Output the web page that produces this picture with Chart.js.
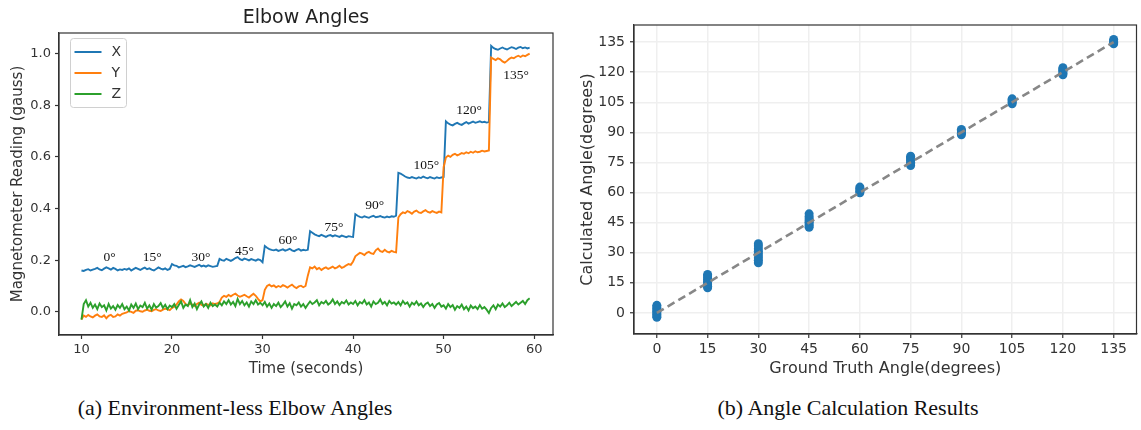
<!DOCTYPE html>
<html>
<head>
<meta charset="utf-8">
<script src="https://cdn.jsdelivr.net/npm/chart.js@4.4.0/dist/chart.umd.min.js"></script>
<style>
  body { margin: 0; background: #fff; width: 1141px; height: 430px; position: relative; overflow: hidden; }
  canvas { position: absolute; top: 0; }
  #elbowChart { left: 0; }
  #angleChart { left: 560px; }
  .caption { position: absolute; top: 395px; width: 420px; text-align: center;
             font-family: "Liberation Serif", serif; font-size: 22px; color: #111; }
</style>
</head>
<body>
<canvas id="elbowChart" width="560" height="380"></canvas>
<canvas id="angleChart" width="581" height="380"></canvas>
<div class="caption" style="left:25px">(a) Environment-less Elbow Angles</div>
<div class="caption" style="left:638px">(b) Angle Calculation Results</div>
<script>
// ---- left panel: magnetometer readings, sampled every 0.25 s from t = 10 s
const sampleStart = 10;
const sampleStep = 0.25;

const xReading = [
  0.160, 0.158, 0.162, 0.165, 0.160, 0.163, 0.166, 0.170, 0.164, 0.161, 0.167, 0.172, 0.168, 0.163, 0.170, 0.166, 0.160, 0.164, 0.162, 0.166,
  0.163, 0.168, 0.160, 0.165, 0.170, 0.166, 0.162, 0.167, 0.171, 0.165, 0.168, 0.163, 0.160, 0.166, 0.172, 0.167, 0.164, 0.168, 0.162, 0.166,
  0.185, 0.180, 0.178, 0.172, 0.175, 0.178, 0.173, 0.176, 0.180, 0.177, 0.174, 0.178, 0.182, 0.176, 0.179, 0.175, 0.180, 0.177, 0.174, 0.176,
  0.178, 0.205, 0.200, 0.198, 0.205, 0.201, 0.197, 0.202, 0.208, 0.212, 0.204, 0.200, 0.206, 0.203, 0.199, 0.204, 0.201, 0.198, 0.203, 0.200,
  0.192, 0.255, 0.248, 0.243, 0.240, 0.238, 0.241, 0.236, 0.239, 0.242, 0.237, 0.240, 0.244, 0.238, 0.235, 0.240, 0.243, 0.237, 0.240, 0.238,
  0.240, 0.312, 0.306, 0.300, 0.296, 0.293, 0.298, 0.294, 0.290, 0.295, 0.297, 0.292, 0.296, 0.293, 0.290, 0.295, 0.292, 0.289, 0.293, 0.291,
  0.290, 0.378, 0.372, 0.368, 0.365, 0.370, 0.367, 0.364, 0.369, 0.372, 0.366, 0.368, 0.371, 0.367, 0.365, 0.369, 0.366, 0.370, 0.368, 0.372,
  0.538, 0.535, 0.530, 0.524, 0.520, 0.518, 0.522, 0.519, 0.516, 0.521, 0.518, 0.524, 0.520, 0.517, 0.522, 0.519, 0.516, 0.521, 0.518, 0.520,
  0.522, 0.738, 0.730, 0.725, 0.722, 0.728, 0.732, 0.727, 0.724, 0.730, 0.735, 0.729, 0.733, 0.737, 0.732, 0.735, 0.738, 0.734, 0.736, 0.733,
  0.735, 1.030, 1.022, 1.018, 1.015, 1.020, 1.024, 1.019, 1.016, 1.021, 1.025, 1.022, 1.018, 1.023, 1.026, 1.021, 1.024, 1.020, 1.023
];

const yReading = [
  -0.030, -0.015, -0.020, -0.012, -0.018, -0.022, -0.015, -0.010, -0.018, -0.020, -0.014, -0.025, -0.016, -0.012, -0.020, -0.018, -0.010, -0.015, -0.008, -0.005,
  -0.002, 0.003, 0.000, -0.004, 0.004, 0.006, 0.002, 0.000, 0.005, 0.008, 0.004, 0.002, 0.007, 0.010, 0.005, 0.003, 0.008, 0.012, 0.009, 0.006,
  0.015, 0.020, 0.028, 0.040, 0.048, 0.042, 0.030, 0.025, 0.032, 0.028, 0.022, 0.030, 0.035, 0.027, 0.024, 0.031, 0.028, 0.025, 0.033, 0.030,
  0.032, 0.038, 0.055, 0.062, 0.058, 0.065, 0.060, 0.066, 0.070, 0.063, 0.058, 0.062, 0.066, 0.060, 0.055, 0.063, 0.070, 0.062, 0.050, 0.040,
  0.045, 0.085, 0.100, 0.105, 0.098, 0.102, 0.095, 0.100, 0.096, 0.103, 0.099, 0.094, 0.100, 0.105, 0.097, 0.092, 0.098, 0.101, 0.095, 0.100,
  0.140, 0.172, 0.168, 0.175, 0.165, 0.170, 0.162, 0.168, 0.172, 0.166, 0.170, 0.175, 0.168, 0.172, 0.178, 0.170, 0.174, 0.180, 0.185, 0.182,
  0.195, 0.215, 0.222, 0.228, 0.225, 0.220, 0.228, 0.232, 0.226, 0.224, 0.238, 0.245, 0.235, 0.232, 0.240, 0.233, 0.230, 0.236, 0.232, 0.230,
  0.365, 0.378, 0.385, 0.382, 0.390, 0.386, 0.380, 0.388, 0.392, 0.385, 0.383, 0.389, 0.394, 0.387, 0.384, 0.390, 0.386, 0.383, 0.388, 0.385,
  0.560, 0.598, 0.605, 0.600, 0.608, 0.612, 0.606, 0.610, 0.615, 0.612, 0.618, 0.614, 0.620, 0.616, 0.622, 0.618, 0.620, 0.624, 0.621, 0.623,
  0.625, 0.985, 0.980, 0.975, 0.982, 0.978, 0.970, 0.965, 0.972, 0.980, 0.985, 0.982, 0.988, 0.992, 0.987, 0.993, 0.990, 0.995, 1.000
];

const zReading = [
  -0.030, 0.030, 0.045, 0.020, 0.035, 0.015, 0.028, 0.010, 0.032, 0.018, 0.025, 0.005, 0.030, 0.012, 0.022, 0.008, 0.026, 0.015, 0.030, 0.010,
  0.020, 0.005, 0.028, 0.015, 0.032, 0.010, 0.024, 0.018, 0.035, 0.012, 0.025, 0.008, 0.030, 0.016, 0.022, 0.034, 0.015, 0.027, 0.010, 0.024,
  0.018, 0.030, 0.012, 0.026, 0.040, 0.015, 0.028, 0.022, 0.045, 0.018, 0.032, 0.010, 0.028, 0.040, 0.020, 0.030, 0.015, 0.035, 0.022, 0.028,
  0.020, 0.035, 0.025, 0.040, 0.030, 0.045, 0.028, 0.038, 0.022, 0.050, 0.030, 0.042, 0.025, 0.036, 0.020, 0.040, 0.030, 0.045, 0.028, 0.035,
  0.025, 0.038, 0.020, 0.032, 0.015, 0.030, 0.022, 0.035, 0.018, 0.028, 0.040, 0.020, 0.033, 0.012, 0.030, 0.025, 0.036, 0.020, 0.030, 0.015,
  0.028, 0.040, 0.030, 0.036, 0.045, 0.025, 0.038, 0.032, 0.042, 0.028, 0.035, 0.048, 0.030, 0.040, 0.026, 0.038, 0.032, 0.044, 0.028, 0.036,
  0.030, 0.042, 0.025, 0.038, 0.032, 0.045, 0.028, 0.036, 0.020, 0.040, 0.030, 0.035, 0.048, 0.030, 0.038, 0.025, 0.042, 0.032, 0.036, 0.028,
  0.038, 0.025, 0.042, 0.030, 0.036, 0.020, 0.035, 0.028, 0.040, 0.025, 0.032, 0.018, 0.030, 0.036, 0.022, 0.030, 0.015, 0.028, 0.034, 0.020,
  0.025, 0.012, 0.030, 0.018, 0.026, 0.008, 0.022, 0.015, 0.028, 0.010, 0.020, 0.005, 0.024, 0.014, 0.020, 0.010, 0.026, 0.012, 0.018, 0.008,
  -0.005, 0.015, 0.025, 0.010, 0.028, 0.020, 0.032, 0.018, 0.025, 0.035, 0.022, 0.030, 0.038, 0.028, 0.035, 0.042, 0.030, 0.045, 0.052
];

const timeTicks = [10, 20, 30, 40, 50, 60];
const gaussTicks = [0, 0.2, 0.4, 0.6, 0.8, 1.0];

// step annotations (time, reading) where each angle label sits
const angleNames = ['0°', '15°', '30°', '45°', '60°', '75°', '90°', '105°', '120°', '135°'];
const angleNameTimes = [13.1, 17.8, 23.2, 28.0, 32.8, 37.9, 42.4, 48.1, 52.8, 58.0];
const angleNameLevels = [0.21, 0.21, 0.21, 0.233, 0.275, 0.325, 0.41, 0.565, 0.778, 0.917];

// ---- right panel: calculated vs ground truth angle
const groundTruth = [0, 15, 30, 45, 60, 75, 90, 105, 120, 135];
const calculatedAngles = [
  [-2.2, -1.5, -0.8, 0.0, 0.7, 1.4, 2.2, 3.0, 3.8],
  [12.5, 13.3, 14.1, 15.0, 15.8, 16.6, 17.5, 18.4, 19.2],
  [25.0, 26.2, 27.4, 28.5, 29.6, 30.8, 32.0, 33.3, 34.5],
  [42.7, 43.5, 44.3, 45.2, 46.0, 47.0, 48.0, 49.4],
  [59.9, 60.6, 61.3, 62.0, 62.7],
  [73.5, 74.3, 75.1, 75.9, 76.7, 77.4, 78.1],
  [88.8, 89.5, 90.2, 90.8, 91.4],
  [104.2, 104.9, 105.6, 106.2, 106.7],
  [118.7, 119.5, 120.3, 121.0, 121.6, 122.2],
  [134.1, 134.8, 135.5, 136.3]
];
const idealLine = [0, 135];
const angleTicks = [0, 15, 30, 45, 60, 75, 90, 105, 120, 135];

const INK = '#333';
const SANS = 'DejaVu Sans';

const times = xReading.map((_, i) => sampleStart + i * sampleStep);
const toPoints = vals => vals.map((v, i) => ({ x: times[i], y: v }));

// box round the plot, like matplotlib spines
const frame = {
  id: 'frame',
  afterDraw(chart) {
    const { ctx, chartArea: a } = chart;
    ctx.save();
    ctx.strokeStyle = INK;
    ctx.lineWidth = 1.2;
    ctx.strokeRect(a.left, a.top, a.right - a.left, a.bottom - a.top);
    ctx.restore();
  }
};

const elbowTitle = {
  id: 'elbowTitle',
  afterDraw(chart) {
    const { ctx, chartArea: a } = chart;
    ctx.save();
    ctx.font = '19px "' + SANS + '"';
    ctx.fillStyle = '#222';
    ctx.textAlign = 'center';
    ctx.textBaseline = 'middle';
    ctx.fillText('Elbow Angles', (a.left + a.right) / 2, 18);
    ctx.restore();
  }
};

const innerLegend = {
  id: 'innerLegend',
  afterDraw(chart) {
    const { ctx, chartArea: a } = chart;
    const x = a.left + 11.5, y = a.top + 5.5;
    ctx.save();
    ctx.fillStyle = 'rgba(255,255,255,0.9)';
    ctx.strokeStyle = '#d0d0d0';
    ctx.lineWidth = 1;
    ctx.beginPath();
    ctx.roundRect(x, y, 56, 69, 3);
    ctx.fill();
    ctx.stroke();
    ctx.font = '14px "' + SANS + '"';
    ctx.textBaseline = 'middle';
    chart.data.datasets.forEach((ds, i) => {
      const ry = y + 13.5 + i * 21;
      ctx.strokeStyle = ds.borderColor;
      ctx.lineWidth = 2;
      ctx.beginPath();
      ctx.moveTo(x + 4, ry);
      ctx.lineTo(x + 31, ry);
      ctx.stroke();
      ctx.fillStyle = INK;
      ctx.fillText(ds.label, x + 41, ry);
    });
    ctx.restore();
  }
};

const angleMarks = {
  id: 'angleMarks',
  afterDatasetsDraw(chart) {
    const { ctx, scales } = chart;
    ctx.save();
    ctx.font = '13.5px "Liberation Serif"';
    ctx.fillStyle = '#111';
    ctx.textAlign = 'center';
    ctx.textBaseline = 'middle';
    angleNames.forEach((name, i) => {
      ctx.fillText(name, scales.x.getPixelForValue(angleNameTimes[i]),
                   scales.y.getPixelForValue(angleNameLevels[i]));
    });
    ctx.restore();
  }
};

new Chart(document.getElementById('elbowChart'), {
  type: 'line',
  data: {
    datasets: [
      { label: 'X', data: toPoints(xReading), borderColor: '#1f77b4', order: 3 },
      { label: 'Y', data: toPoints(yReading), borderColor: '#ff7f0e', order: 2 },
      { label: 'Z', data: toPoints(zReading), borderColor: '#2ca02c', order: 1 }
    ]
  },
  options: {
    responsive: false,
    animation: false,
    layout: { padding: { left: 0, right: 7, top: 33, bottom: 0 } },
    elements: { point: { radius: 0 }, line: { borderWidth: 1.9, tension: 0 } },
    plugins: { legend: { display: false }, tooltip: { enabled: false } },
    scales: {
      x: {
        type: 'linear', min: 7.52, max: 62.08,
        afterBuildTicks: s => { s.ticks = timeTicks.map(v => ({ value: v })); },
        afterFit: s => { s.height = 45; },
        grid: { drawOnChartArea: false, tickLength: 4, tickColor: INK, tickWidth: 1.2 },
        border: { color: INK, width: 1.2 },
        ticks: { font: { family: SANS, size: 13 }, color: INK, padding: 3, maxRotation: 0 },
        title: { display: true, text: 'Time (seconds)', color: INK,
                 font: { family: SANS, size: 15 }, padding: { top: 0, bottom: 2 } }
      },
      y: {
        type: 'linear', min: -0.09, max: 1.08,
        afterBuildTicks: s => { s.ticks = gaussTicks.map(v => ({ value: v })); },
        afterFit: s => { s.width = 59; },
        grid: { drawOnChartArea: false, tickLength: 4, tickColor: INK, tickWidth: 1.2 },
        border: { color: INK, width: 1.2 },
        ticks: { font: { family: SANS, size: 13 }, color: INK, padding: 4,
                 callback: v => v.toFixed(1) },
        title: { display: true, text: 'Magnetometer Reading (gauss)', color: INK,
                 font: { family: SANS, size: 15 }, padding: { top: 9, bottom: 0 } }
      }
    }
  },
  plugins: [frame, elbowTitle, innerLegend, angleMarks]
});

const scatterPoints = groundTruth.flatMap((g, i) =>
  calculatedAngles[i].map(c => ({ x: g, y: c })));

new Chart(document.getElementById('angleChart'), {
  type: 'scatter',
  data: {
    datasets: [
      { label: 'ideal', data: idealLine.map(v => ({ x: v, y: v })), showLine: true,
        borderColor: '#878787', borderWidth: 2.6, borderDash: [8, 4.5], pointRadius: 0, order: 0 },
      { label: 'calculated', data: scatterPoints, backgroundColor: '#1f77b4',
        borderColor: '#1f77b4', borderWidth: 0, pointRadius: 4.5, order: 1 }
    ]
  },
  options: {
    responsive: false,
    animation: false,
    layout: { padding: { left: 0, right: 2, top: 25, bottom: 0 } },
    plugins: { legend: { display: false }, tooltip: { enabled: false } },
    scales: {
      x: {
        type: 'linear', min: -6.75, max: 141.75,
        afterBuildTicks: s => { s.ticks = angleTicks.map(v => ({ value: v })); },
        afterFit: s => { s.height = 46; },
        grid: { color: '#efefef', lineWidth: 1.5, tickLength: 4, tickColor: INK, tickWidth: 1.2 },
        border: { color: INK, width: 1.2 },
        ticks: { font: { family: SANS, size: 14 }, color: INK, padding: 3, maxRotation: 0 },
        title: { display: true, text: 'Ground Truth Angle(degrees)', color: INK,
                 font: { family: SANS, size: 16 }, padding: { top: 0, bottom: 2 } }
      },
      y: {
        type: 'linear', min: -10.5, max: 143.5,
        afterBuildTicks: s => { s.ticks = angleTicks.map(v => ({ value: v })); },
        afterFit: s => { s.width = 74; },
        grid: { color: '#efefef', lineWidth: 1.5, tickLength: 4, tickColor: INK, tickWidth: 1.2 },
        border: { color: INK, width: 1.2 },
        ticks: { font: { family: SANS, size: 14 }, color: INK, padding: 5 },
        title: { display: true, text: 'Calculated Angle(degrees)', color: INK,
                 font: { family: SANS, size: 16 }, padding: { top: 18, bottom: 0 } }
      }
    }
  },
  plugins: [frame]
});
</script>
</body>
</html>
